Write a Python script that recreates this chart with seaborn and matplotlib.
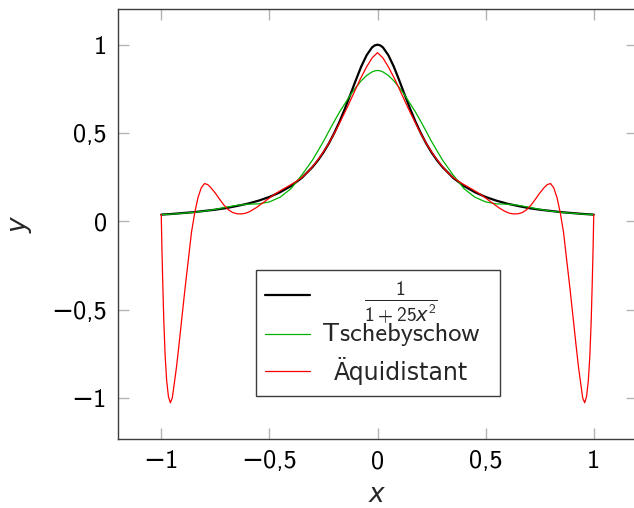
import pandas as pd
import seaborn as sns
import matplotlib.pyplot as plt
from matplotlib.patches import Rectangle
from matplotlib.ticker import FuncFormatter

# x grid for the Runge function and the Chebyshev interpolant
grid_x = [-1.0, -0.95, -0.9, -0.85, -0.8, -0.75, -0.7, -0.65, -0.6, -0.55, -0.5,
          -0.45, -0.4, -0.35, -0.3, -0.275, -0.25, -0.225, -0.2, -0.175, -0.15,
          -0.125, -0.1, -0.075, -0.05, -0.025, -0.0125, 0.0, 0.0125, 0.025, 0.05, 0.075, 0.1,
          0.125, 0.15, 0.175, 0.2, 0.225, 0.25, 0.275, 0.3, 0.35, 0.4, 0.45,
          0.5, 0.55, 0.6, 0.65, 0.7, 0.75, 0.8, 0.85, 0.9, 0.95, 1.0]
runge_y = [0.038, 0.042, 0.047, 0.052, 0.059, 0.066, 0.075, 0.087, 0.100, 0.117, 0.138,
           0.165, 0.200, 0.246, 0.308, 0.346, 0.390, 0.441, 0.500, 0.566, 0.640,
           0.719, 0.800, 0.877, 0.941, 0.985, 0.996, 1.000, 0.996, 0.985, 0.941, 0.877, 0.800,
           0.719, 0.640, 0.566, 0.500, 0.441, 0.390, 0.346, 0.308, 0.246, 0.200, 0.165,
           0.138, 0.117, 0.100, 0.087, 0.075, 0.066, 0.059, 0.052, 0.047, 0.042, 0.038]
cheb_y = [0.038, 0.041, 0.046, 0.051, 0.058, 0.068, 0.080, 0.091, 0.097, 0.099, 0.110,
          0.137, 0.185, 0.262, 0.348, 0.400, 0.452, 0.510, 0.566, 0.620, 0.668,
          0.716, 0.758, 0.796, 0.826, 0.846, 0.852, 0.854, 0.852, 0.846, 0.826, 0.796, 0.758,
          0.716, 0.668, 0.620, 0.566, 0.510, 0.452, 0.400, 0.348, 0.262, 0.185, 0.137,
          0.110, 0.099, 0.097, 0.091, 0.080, 0.068, 0.058, 0.051, 0.046, 0.041, 0.038]

# equidistant interpolant
equi_x = [-1.0, -0.997, -0.993, -0.988, -0.982, -0.975, -0.967, -0.958, -0.949, -0.94,
          -0.93, -0.918, -0.905, -0.89, -0.875, -0.86, -0.845, -0.83, -0.815, -0.8,
          -0.785, -0.77, -0.75, -0.73, -0.71, -0.69, -0.67, -0.65, -0.63, -0.61,
          -0.59, -0.56, -0.53, -0.5, -0.47, -0.44, -0.41, -0.38, -0.35, -0.32,
          -0.29, -0.26, -0.23, -0.2, -0.17, -0.14, -0.11, -0.08, -0.05, -0.025,
          0.0,
          0.025, 0.05, 0.08, 0.11, 0.14, 0.17, 0.2, 0.23, 0.26, 0.29,
          0.32, 0.35, 0.38, 0.41, 0.44, 0.47, 0.5, 0.53, 0.56, 0.59,
          0.61, 0.63, 0.65, 0.67, 0.69, 0.71, 0.73, 0.75, 0.77, 0.785,
          0.8, 0.815, 0.83, 0.845, 0.86, 0.875, 0.89, 0.905, 0.918, 0.93,
          0.94, 0.949, 0.958, 0.967, 0.975, 0.982, 0.988, 0.993, 0.997, 1.0]
equi_y = [0.038, -0.15, -0.35, -0.57, -0.76, -0.90, -0.99, -1.027, -1.00, -0.92,
          -0.83, -0.70, -0.55, -0.38, -0.22, -0.06, 0.05, 0.135, 0.19, 0.214,
          0.208, 0.19, 0.16, 0.125, 0.092, 0.066, 0.050, 0.043, 0.042, 0.046,
          0.056, 0.078, 0.105, 0.132, 0.158, 0.180, 0.201, 0.222, 0.248, 0.282,
          0.325, 0.375, 0.432, 0.497, 0.570, 0.645, 0.725, 0.805, 0.875, 0.925,
          0.955,
          0.925, 0.875, 0.805, 0.725, 0.645, 0.570, 0.497, 0.432, 0.375, 0.325,
          0.282, 0.248, 0.222, 0.201, 0.180, 0.158, 0.132, 0.105, 0.078, 0.056,
          0.046, 0.042, 0.043, 0.050, 0.066, 0.092, 0.125, 0.16, 0.19, 0.208,
          0.214, 0.19, 0.135, 0.05, -0.06, -0.22, -0.38, -0.55, -0.70, -0.83,
          -0.92, -1.00, -1.027, -0.99, -0.90, -0.76, -0.57, -0.35, -0.15, 0.038]

tick_values = [-1, -0.5, 0, 0.5, 1]
series_labels = [r"$\frac{1}{1+25x^2}$", "Tschebyschow", "Äquidistant"]
series_colors = ["black", "#00b300", "#ff0000"]
series_widths = [1.6, 0.9, 0.9]

sns.set_theme(style="ticks")
plt.rcParams["font.family"] = ["cmss10", "DejaVu Sans"]
plt.rcParams["mathtext.fontset"] = "custom"
plt.rcParams["mathtext.rm"] = "cmss10"
plt.rcParams["mathtext.it"] = "DejaVu Sans:italic"
plt.rcParams["axes.unicode_minus"] = True

fig = plt.figure(figsize=(6.34, 5.08), dpi=100)
ax = fig.add_axes([118 / 634, 1 - 439 / 508, 519 / 634, 430 / 508])

sns.lineplot(x=grid_x, y=runge_y, ax=ax, color=series_colors[0], lw=series_widths[0], sort=False)
sns.lineplot(x=grid_x, y=cheb_y, ax=ax, color=series_colors[1], lw=series_widths[1], sort=False)
sns.lineplot(x=equi_x, y=equi_y, ax=ax, color=series_colors[2], lw=series_widths[2], sort=False)

ax.set_xlim(-1.2, 1.2)
ax.set_ylim(-1.232, 1.202)
ax.set_xticks(tick_values)
ax.set_yticks(tick_values)
fmt = FuncFormatter(lambda v, p: f"{v:g}".replace(".", ",").replace("-", "\u2212"))
ax.xaxis.set_major_formatter(fmt)
ax.yaxis.set_major_formatter(fmt)
ax.tick_params(direction="in", length=8, width=1, color="#b4b4b4", top=True, right=True,
               labelsize=19, pad=8, labelcolor="black")
for sp in ax.spines.values():
    sp.set_color("#3c3c3c")
    sp.set_linewidth(1.0)

ax.set_xlabel("$x$", fontsize=19, labelpad=8)
ax.set_ylabel("$y$", fontsize=19, labelpad=12)

# legend box, labels centred in their column
box = Rectangle((0.266, 0.100), 0.470, 0.293, transform=ax.transAxes, facecolor="white",
                edgecolor="#3c3c3c", lw=1.0, zorder=5)
ax.add_patch(box)
row_y = [0.334, 0.244, 0.158]
text_y = [0.318, 0.244, 0.158]
for lab, col, lw, yy, ty in zip(series_labels, series_colors, series_widths, row_y, text_y):
    ax.plot([0.283, 0.370], [yy, yy], transform=ax.transAxes, color=col, lw=lw, zorder=6)
    fam = ["DejaVu Sans"] if lab.startswith("Ä") else None
    ax.text(0.545, ty, lab, transform=ax.transAxes, ha="center", va="center",
            fontsize=20 if lab.startswith("$") else (17 if fam else 19),
            family=fam, zorder=6)

fig.savefig("out.png", dpi=100)
